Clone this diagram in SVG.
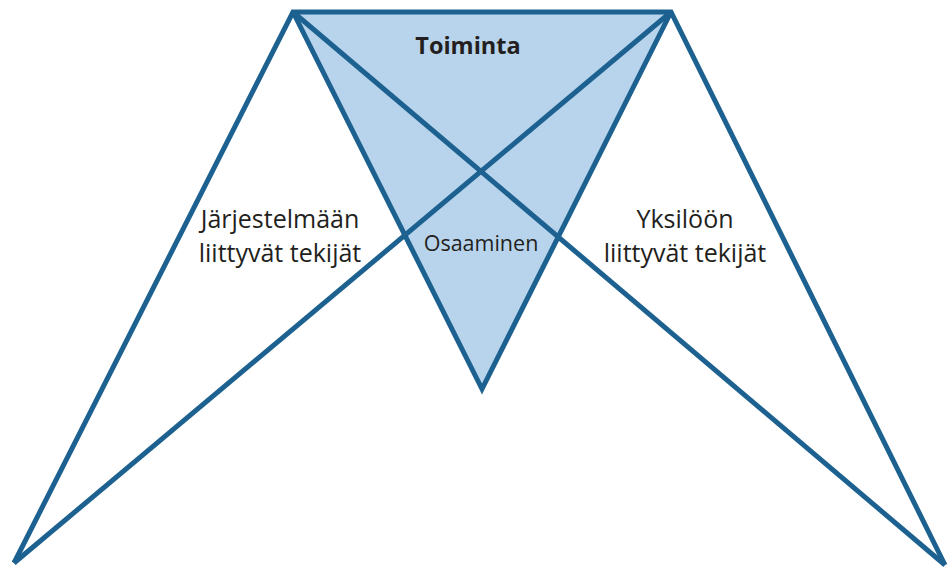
<svg xmlns="http://www.w3.org/2000/svg" width="951" height="567" viewBox="0 0 951 567">
<style>
.ln{stroke:#1d6190;stroke-width:5;fill:none;stroke-linejoin:miter;stroke-linecap:butt}
.t{font-family:"Open Sans","Liberation Sans",sans-serif;fill:#231f20;text-anchor:middle}
</style>
<rect width="951" height="567" fill="#fff"/>
<g id="toiminta">
<polygon points="293,12 671,12 482,389" fill="#b8d4ec"/>
<text class="t" x="468" y="54" font-size="23.5" font-weight="bold">Toiminta</text>
</g>
<g id="connectors">
<polyline class="ln" points="14,563 293,12 671,12 945,565"/>
<polyline class="ln" points="293,12 482,389 671,12"/>
<line class="ln" x1="293" y1="12" x2="945" y2="565"/>
<line class="ln" x1="671" y1="12" x2="14" y2="563"/>
</g>
<g id="osaaminen">
<text class="t" x="481" y="251" font-size="21.5">Osaaminen</text>
</g>
<g id="jarjestelma">
<text class="t" x="280" y="228" font-size="25">Järjestelmään</text>
<text class="t" x="280" y="262" font-size="25">liittyvät tekijät</text>
</g>
<g id="yksilo">
<text class="t" x="685" y="228" font-size="25">Yksilöön</text>
<text class="t" x="685" y="262" font-size="25">liittyvät tekijät</text>
</g>
</svg>
